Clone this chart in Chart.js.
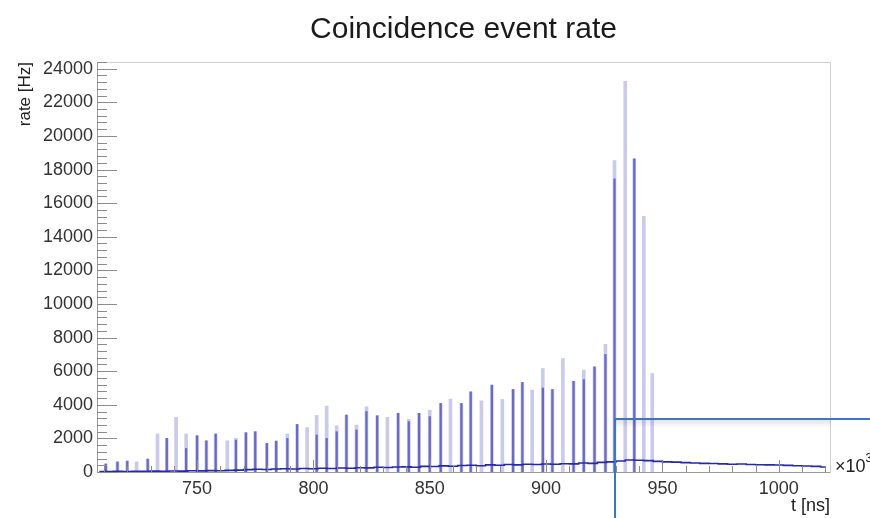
<!DOCTYPE html>
<html><head><meta charset="utf-8">
<script src="https://cdn.jsdelivr.net/npm/chart.js@4.4.1/dist/chart.umd.min.js"></script>
<style>html,body{margin:0;padding:0;background:#fff;}#wrap{width:870px;height:518px;position:relative;}</style>
</head><body><div id="wrap"><canvas id="c" width="870" height="518"></canvas></div>
<script>
const TITLE = "Coincidence event rate";
const X_TITLE = "t [ns]";
const Y_TITLE = "rate [Hz]";
const X_EXP = "\u00d710";
const X_EXP_POWER = "3";
const xTicks = [750, 800, 850, 900, 950, 1000];
const yTicks = [0, 2000, 4000, 6000, 8000, 10000, 12000, 14000, 16000, 18000, 20000, 22000, 24000];

// spike positions (ns) and rates (Hz)
const spikeT = [710.8, 715.8, 720, 724, 728.8, 733, 737, 741, 745.3, 750, 754, 758, 763, 766.7, 771, 775, 780, 784, 788.8, 793, 797.3, 801.4, 805.7, 810, 814.2, 818.5, 822.8, 827.4, 831.8, 836.4, 841, 845.4, 850, 854.7, 858.9, 863.6, 867.6, 872.2, 876.7, 881.2, 885.8, 889.8, 894, 898.6, 902.7, 907.2, 911.8, 916.2, 920.8, 925.5, 929.4, 934, 937.9, 942, 945.6];
const spikeLight = [480, 600, 650, 600, 770, 2260, 2000, 3250, 2260, 2160, 1860, 2260, 1860, 2000, 2340, 2400, 1700, 1840, 2260, 2830, 2650, 3370, 3920, 2750, 3390, 2790, 3880, 3350, 3250, 3490, 3130, 3490, 3680, 4080, 4340, 4080, 4770, 4240, 5170, 4320, 4910, 5330, 4870, 6160, 4910, 6750, 5400, 6060, 6260, 7600, 18540, 23250, 18640, 15210, 5860];
const spikeDark = [480, 600, 650, null, 770, null, 2000, null, 1400, 2160, 1860, 2260, null, 1900, 2340, 2400, 1700, 1840, 2000, 2830, null, 2200, 2000, 2400, 3390, 2500, 3600, 3350, null, 3490, 3000, 3490, 3300, 4080, null, 4080, 4770, null, 5170, null, 4910, 5330, null, 5000, 4910, null, 5400, 5500, 6260, 7000, 17450, null, 18640, null, null];

// continuous background level
const baseT = [708, 712, 716, 720, 724, 728, 732, 736, 740, 744, 748, 752, 756, 760, 764, 768, 772, 776, 780, 784, 788, 792, 796, 800, 804, 808, 812, 816, 820, 824, 828, 832, 836, 840, 844, 848, 852, 856, 860, 864, 868, 872, 876, 880, 884, 888, 892, 896, 900, 904, 908, 912, 916, 920, 924, 928, 932, 936, 940, 944, 948, 952, 956, 960, 964, 968, 972, 976, 980, 984, 988, 992, 996, 1000, 1004, 1008, 1012, 1016, 1020];
const baseRate = [30, 20, 40, 25, 35, 40, 50, 45, 60, 55, 70, 65, 80, 75, 95, 110, 140, 165, 150, 175, 195, 180, 205, 195, 225, 210, 235, 225, 255, 245, 285, 265, 300, 305, 285, 335, 325, 365, 345, 385, 405, 375, 425, 405, 445, 425, 465, 445, 475, 465, 495, 485, 535, 515, 575, 600, 655, 715, 695, 675, 635, 605, 585, 555, 535, 515, 505, 485, 465, 475, 445, 435, 425, 415, 395, 375, 355, 335, 295];

Chart.defaults.font.family = "'Liberation Sans', Arial, Helvetica, sans-serif";
Chart.defaults.animation = false;

const FONT = "'Liberation Sans', Arial, Helvetica, sans-serif";
const BOX_T = 929.6, BOX_RATE = 3150;

const decor = {
  id: 'decor',
  afterDatasetsDraw(chart) {
    const {ctx, chartArea: a, scales: {x, y}} = chart;
    ctx.save();
    ctx.lineWidth = 1;
    ctx.strokeStyle = '#cfcfcf';
    ctx.beginPath();
    ctx.moveTo(a.left, a.top + 0.5); ctx.lineTo(a.right + 0.5, a.top + 0.5);
    ctx.lineTo(a.right + 0.5, a.bottom);
    ctx.stroke();
    ctx.strokeStyle = '#9a9a9a';
    ctx.beginPath();
    ctx.moveTo(a.left + 0.5, a.top); ctx.lineTo(a.left + 0.5, a.bottom + 0.5);
    ctx.lineTo(a.right + 0.5, a.bottom + 0.5);
    ctx.stroke();
    ctx.strokeStyle = '#8c8c8c';
    ctx.beginPath();
    for (let v = 0; v <= y.max; v += 400) {
      const py = Math.round(y.getPixelForValue(v)) + 0.5;
      const len = (v % 2000 === 0) ? 20 : 10;
      ctx.moveTo(a.left, py); ctx.lineTo(a.left + len, py);
    }
    for (let v = 710; v <= x.max; v += 10) {
      const px = Math.round(x.getPixelForValue(v)) + 0.5;
      const len = (v % 50 === 0) ? 12 : 6;
      ctx.moveTo(px, a.bottom); ctx.lineTo(px, a.bottom - len);
    }
    ctx.stroke();
    ctx.fillStyle = '#222';
    ctx.font = '18px ' + FONT;
    ctx.textAlign = 'right'; ctx.textBaseline = 'middle';
    ctx.fillText(X_TITLE, a.right, 506);
    ctx.textAlign = 'left';
    ctx.fillText(X_EXP, a.right + 5, a.bottom - 5);
    const w = ctx.measureText(X_EXP).width;
    ctx.font = '12px ' + FONT;
    ctx.fillText(X_EXP_POWER, a.right + 5 + w, a.bottom - 13);
    ctx.save();
    ctx.translate(25, a.top);
    ctx.rotate(-Math.PI / 2);
    ctx.font = '17px ' + FONT;
    ctx.textAlign = 'right'; ctx.textBaseline = 'middle';
    ctx.fillText(Y_TITLE, 0, 0);
    ctx.restore();
    const bx = Math.round(x.getPixelForValue(BOX_T));
    const by = Math.round(y.getPixelForValue(BOX_RATE));
    const g = ctx.createLinearGradient(0, by + 1, 0, by + 9);
    g.addColorStop(0, 'rgba(0,0,0,0.10)');
    g.addColorStop(1, 'rgba(0,0,0,0)');
    ctx.fillStyle = g;
    ctx.fillRect(bx + 1, by + 1, a.right - bx, 8);
    ctx.strokeStyle = '#3d78bd';
    ctx.lineWidth = 2;
    ctx.beginPath();
    ctx.moveTo(bx, chart.height); ctx.lineTo(bx, by); ctx.lineTo(chart.width, by);
    ctx.stroke();
    ctx.restore();
  }
};

new Chart(document.getElementById('c'), {
  type: 'bar',
  data: {
    datasets: [
      { type: 'line', data: baseT.map((t, i) => ({x: t, y: baseRate[i]})), borderColor: 'rgb(40,40,170)', borderWidth: 1.6, pointRadius: 0, stepped: 'middle', order: 1 },
      { type: 'bar', data: spikeT.map((t, i) => ({x: t, y: spikeDark[i]})), backgroundColor: 'rgba(66,66,196,0.72)', barThickness: 1.6, grouped: false, order: 2 },
      { type: 'bar', data: spikeT.map((t, i) => ({x: t, y: spikeLight[i]})), backgroundColor: 'rgba(150,150,222,0.5)', barThickness: 3, grouped: false, order: 3 }
    ]
  },
  options: {
    responsive: false,
    animation: false,
    layout: { padding: { left: 0, right: 40, top: 0, bottom: 0 } },
    plugins: {
      legend: { display: false },
      tooltip: { enabled: false },
      title: { display: true, text: TITLE, fullSize: false, color: '#1a1a1a', font: { size: 30, weight: 'normal', family: FONT }, padding: { top: 12, bottom: 14 } }
    },
    scales: {
      x: {
        type: 'linear', min: 707, max: 1022, offset: false,
        grid: { display: false, drawTicks: false }, border: { display: false },
        afterBuildTicks: s => { s.ticks = xTicks.map(v => ({value: v})); },
        afterFit: s => { s.height = 46; },
        ticks: { autoSkip: false, maxRotation: 0, padding: 6, color: '#333', font: { size: 18, family: FONT }, callback: v => String(v) }
      },
      y: {
        min: 0, max: 24400,
        grid: { display: false, drawTicks: false }, border: { display: false },
        afterBuildTicks: s => { s.ticks = yTicks.map(v => ({value: v})); },
        afterFit: s => { s.width = 97; },
        ticks: { autoSkip: false, padding: 4, color: '#333', font: { size: 18, family: FONT }, callback: v => String(v) }
      }
    }
  },
  plugins: [decor]
});
</script>
</body></html>
